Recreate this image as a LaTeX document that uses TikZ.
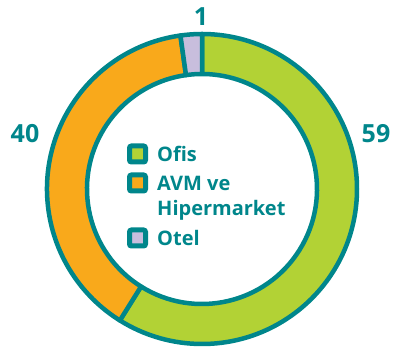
\documentclass[tikz,border=0pt]{standalone}
\usepackage{fontspec}
\setmainfont{Open Sans}
\usetikzlibrary{positioning}

\definecolor{ringteal}{RGB}{0,134,139}
\definecolor{ofisgreen}{RGB}{178,210,53}
\definecolor{avmorange}{RGB}{249,169,27}
\definecolor{otellilac}{RGB}{200,190,221}

\begin{document}
\begin{tikzpicture}[x=1pt,y=1pt,
  slice/.style={draw=ringteal,line width=4.5pt,line join=round},
  key/.style={draw=ringteal,line width=5pt,rounded corners=2pt,minimum size=16pt,inner sep=0pt},
  legtext/.style={text=ringteal,font=\fontsize{20}{24}\selectfont\bfseries,inner sep=0pt},
  val/.style={text=ringteal,font=\fontsize{25}{30}\selectfont\bfseries,inner sep=0pt}]

\useasboundingbox (0,0) rectangle (400,347);
\coordinate (o) at (202,158);

% ring
\draw[slice,fill=ofisgreen] ([shift={(90:155)}]o) arc[start angle=90,end angle=-122,radius=155]
  -- ([shift={(-122:115)}]o) arc[start angle=-122,end angle=90,radius=115] -- cycle;
\draw[slice,fill=avmorange] ([shift={(98:155)}]o) arc[start angle=98,end angle=238,radius=155]
  -- ([shift={(238:115)}]o) arc[start angle=238,end angle=98,radius=115] -- cycle;
\draw[slice,fill=otellilac] ([shift={(90:155)}]o) arc[start angle=90,end angle=98,radius=155]
  -- ([shift={(98:115)}]o) arc[start angle=98,end angle=90,radius=115] -- cycle;

% values
\node[val] (v1) at (201,330) {1};
\node[val] (v40) at (25,213) {40};
\node[val] (v59) at (376,213) {59};

% legend
\node[key,fill=ofisgreen] (k1) at (137.5,193) {};
\node[key,fill=avmorange] (k2) at (137.5,164) {};
\node[key,fill=otellilac] (k3) at (137.5,109) {};

\node[legtext,right=9pt of k1] (t1) {Ofis};
\node[legtext,right=9pt of k2] (t2) {AVM ve};
\node[legtext,below=10pt of t2.south west,anchor=north west] (t2b) {Hipermarket};
\node[legtext,right=9pt of k3] (t3) {Otel};
\end{tikzpicture}
\end{document}
